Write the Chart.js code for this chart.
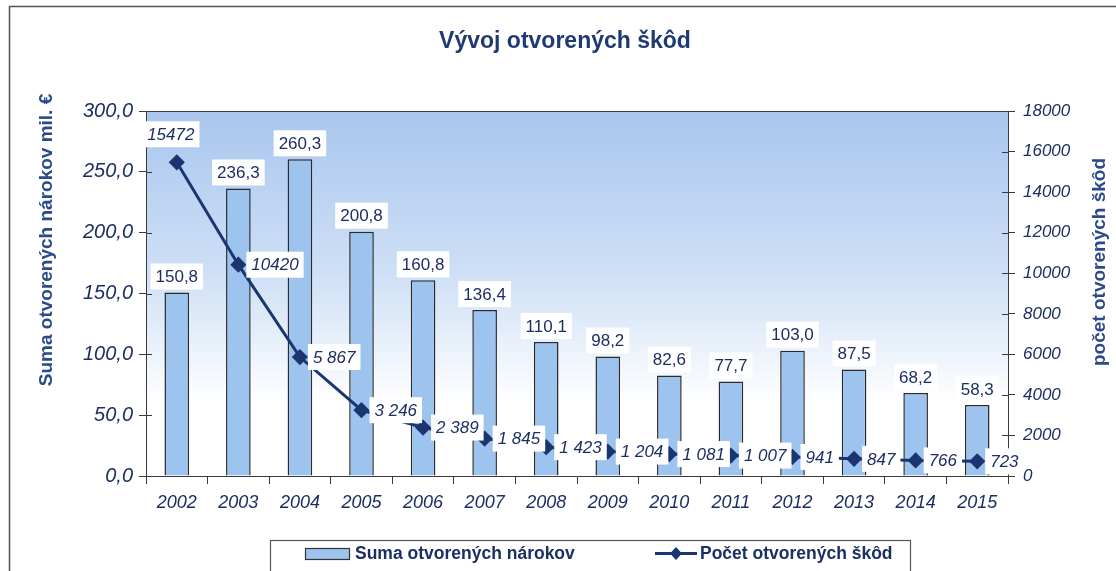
<!DOCTYPE html>
<html>
<head>
<meta charset="utf-8">
<script src="https://cdn.jsdelivr.net/npm/chart.js@4"></script>
<style>
  html, body { margin: 0; padding: 0; background: #ffffff; }
  #wrap { width: 1116px; height: 571px; overflow: hidden; }
</style>
</head>
<body>
<div id="wrap"><canvas id="chart" width="1116" height="571"></canvas></div>
<script>
const years = ['2002', '2003', '2004', '2005', '2006', '2007', '2008', '2009', '2010', '2011', '2012', '2013', '2014', '2015'];
const sumaNarokov = [150.8, 236.3, 260.3, 200.8, 160.8, 136.4, 110.1, 98.2, 82.6, 77.7, 103.0, 87.5, 68.2, 58.3];
const pocetSkod = [15472, 10420, 5867, 3246, 2389, 1845, 1423, 1204, 1081, 1007, 941, 847, 766, 723];
const pocetLabels = ['15472', '10420', '5 867', '3 246', '2 389', '1 845', '1 423', '1 204', '1 081', '1 007', '941', '847', '766', '723'];

const FONT = '"Liberation Sans", Arial, sans-serif';
const NAVY = '#1c2f63';
const AXIS = '#3a3a3a';

const fmtComma = (v) => v.toFixed(1).replace('.', ',');

const drawBox = (ctx, text, cx, cy, font, align) => {
  ctx.font = font;
  const w = ctx.measureText(text).width + 10;
  const h = 26;
  const x = align === 'left' ? cx : cx - w / 2;
  ctx.fillStyle = '#ffffff';
  ctx.fillRect(x, cy - h / 2, w, h);
  ctx.fillStyle = NAVY;
  ctx.textBaseline = 'middle';
  ctx.textAlign = 'left';
  ctx.fillText(text, x + 5, cy + 1);
};

const decorPlugin = {
  id: 'decor',
  beforeDraw(chart) {
    const { ctx, chartArea: a } = chart;
    ctx.save();
    const g = ctx.createLinearGradient(0, a.top, 0, a.bottom);
    g.addColorStop(0, '#a9c6ee');
    g.addColorStop(0.45, '#cfe0f6');
    g.addColorStop(0.8, '#ffffff');
    g.addColorStop(1, '#ffffff');
    ctx.fillStyle = g;
    ctx.fillRect(a.left, a.top, a.right - a.left, a.bottom - a.top);
    ctx.restore();
  },
  afterDraw(chart) {
    const { ctx, chartArea: a } = chart;
    ctx.save();
    // outer frame
    ctx.strokeStyle = '#555555';
    ctx.lineWidth = 1.5;
    ctx.strokeRect(9.5, 6.5, 1130, 620);
    // top border of plot
    ctx.strokeStyle = AXIS;
    ctx.lineWidth = 1;
    ctx.beginPath();
    ctx.moveTo(a.left, a.top + 0.5);
    ctx.lineTo(a.right, a.top + 0.5);
    ctx.stroke();
    // inner halves of axis ticks
    const yl = chart.scales.y;
    const yr = chart.scales.y1;
    ctx.beginPath();
    yl.ticks.forEach((t) => {
      const py = Math.round(yl.getPixelForValue(t.value)) + 0.5;
      ctx.moveTo(a.left, py);
      ctx.lineTo(a.left + 6, py);
    });
    yr.ticks.forEach((t) => {
      const py = Math.round(yr.getPixelForValue(t.value)) + 0.5;
      ctx.moveTo(a.right, py);
      ctx.lineTo(a.right - 6, py);
    });
    ctx.stroke();
    // title
    ctx.fillStyle = '#1f3a73';
    ctx.font = 'bold 23px ' + FONT;
    ctx.textAlign = 'center';
    ctx.textBaseline = 'middle';
    ctx.fillText('Vývoj otvorených škôd', 565, 42);
    // axis titles
    ctx.font = 'bold 19px ' + FONT;
    ctx.fillStyle = '#2b4a8a';
    ctx.save();
    ctx.translate(47, 240);
    ctx.rotate(-Math.PI / 2);
    ctx.fillText('Suma otvorených nárokov mil. €', 0, 0);
    ctx.restore();
    ctx.save();
    ctx.translate(1100, 262);
    ctx.rotate(-Math.PI / 2);
    ctx.fillText('počet otvorených škôd', 0, 0);
    ctx.restore();
    // legend
    ctx.strokeStyle = '#555555';
    ctx.lineWidth = 1.2;
    ctx.strokeRect(270.5, 540.5, 640, 50);
    ctx.fillStyle = '#9dc3ef';
    ctx.fillRect(305, 548, 44, 11);
    ctx.strokeStyle = '#333333';
    ctx.strokeRect(305.5, 548.5, 44, 11);
    ctx.strokeStyle = '#1a3570';
    ctx.lineWidth = 3;
    ctx.beginPath();
    ctx.moveTo(655, 553.5);
    ctx.lineTo(697, 553.5);
    ctx.stroke();
    ctx.fillStyle = '#1a3570';
    ctx.beginPath();
    ctx.moveTo(676, 547);
    ctx.lineTo(682, 553.5);
    ctx.lineTo(676, 560);
    ctx.lineTo(670, 553.5);
    ctx.closePath();
    ctx.fill();
    ctx.fillStyle = NAVY;
    ctx.font = 'bold 17.5px ' + FONT;
    ctx.textAlign = 'left';
    ctx.fillText('Suma otvorených nárokov', 355, 554);
    ctx.fillText('Počet otvorených škôd', 700, 554);
    ctx.restore();
  },
  afterDatasetsDraw(chart) {
    const { ctx } = chart;
    ctx.save();
    const bars = chart.getDatasetMeta(0).data;
    bars.forEach((bar, i) => {
      drawBox(ctx, fmtComma(sumaNarokov[i]), bar.x, bar.y - 16, '17px ' + FONT, 'center');
    });
    const pts = chart.getDatasetMeta(1).data;
    pts.forEach((pt, i) => {
      if (i === 0) {
        drawBox(ctx, pocetLabels[i], pt.x - 6, pt.y - 28, 'italic 17px ' + FONT, 'center');
      } else {
        drawBox(ctx, pocetLabels[i], pt.x + 8, pt.y, 'italic 17px ' + FONT, 'left');
      }
    });
    ctx.restore();
  },
};

new Chart(document.getElementById('chart'), {
  data: {
    labels: years,
    datasets: [
      {
        type: 'bar',
        label: 'Suma otvorených nárokov',
        data: sumaNarokov,
        yAxisID: 'y',
        backgroundColor: '#9dc3ef',
        borderColor: '#2b2b2b',
        borderWidth: 1.5,
        barPercentage: 0.4,
        categoryPercentage: 1,
        order: 2,
      },
      {
        type: 'line',
        label: 'Počet otvorených škôd',
        data: pocetSkod,
        yAxisID: 'y1',
        borderColor: '#1a3570',
        backgroundColor: '#1a3570',
        borderWidth: 3,
        pointStyle: 'rectRot',
        pointRadius: 6,
        tension: 0,
        order: 1,
      },
    ],
  },
  options: {
    responsive: false,
    animation: false,
    layout: { padding: { top: 111, left: 0, right: 0, bottom: 0 } },
    plugins: {
      legend: { display: false },
      tooltip: { enabled: false },
    },
    scales: {
      x: {
        offset: true,
        grid: { offset: true, drawOnChartArea: false, color: AXIS, tickLength: 8 },
        border: { color: AXIS },
        ticks: { color: NAVY, padding: 8, font: { family: FONT, size: 18, style: 'italic' } },
        afterFit: (s) => { s.height = 95; },
      },
      y: {
        position: 'left',
        min: 0,
        max: 300,
        ticks: {
          stepSize: 50,
          color: NAVY,
          padding: 6,
          font: { family: FONT, size: 20, style: 'italic' },
          callback: (v) => fmtComma(v),
        },
        grid: { drawOnChartArea: false, color: AXIS, tickLength: 7 },
        border: { color: AXIS },
        afterFit: (s) => { s.width = 146; },
      },
      y1: {
        position: 'right',
        min: 0,
        max: 18000,
        ticks: {
          stepSize: 2000,
          color: NAVY,
          padding: 8,
          font: { family: FONT, size: 17, style: 'italic' },
          callback: (v) => String(v),
        },
        grid: { drawOnChartArea: false, color: AXIS, tickLength: 7 },
        border: { color: AXIS },
        afterFit: (s) => { s.width = 108; },
      },
    },
  },
  plugins: [decorPlugin],
});
</script>
</body>
</html>
